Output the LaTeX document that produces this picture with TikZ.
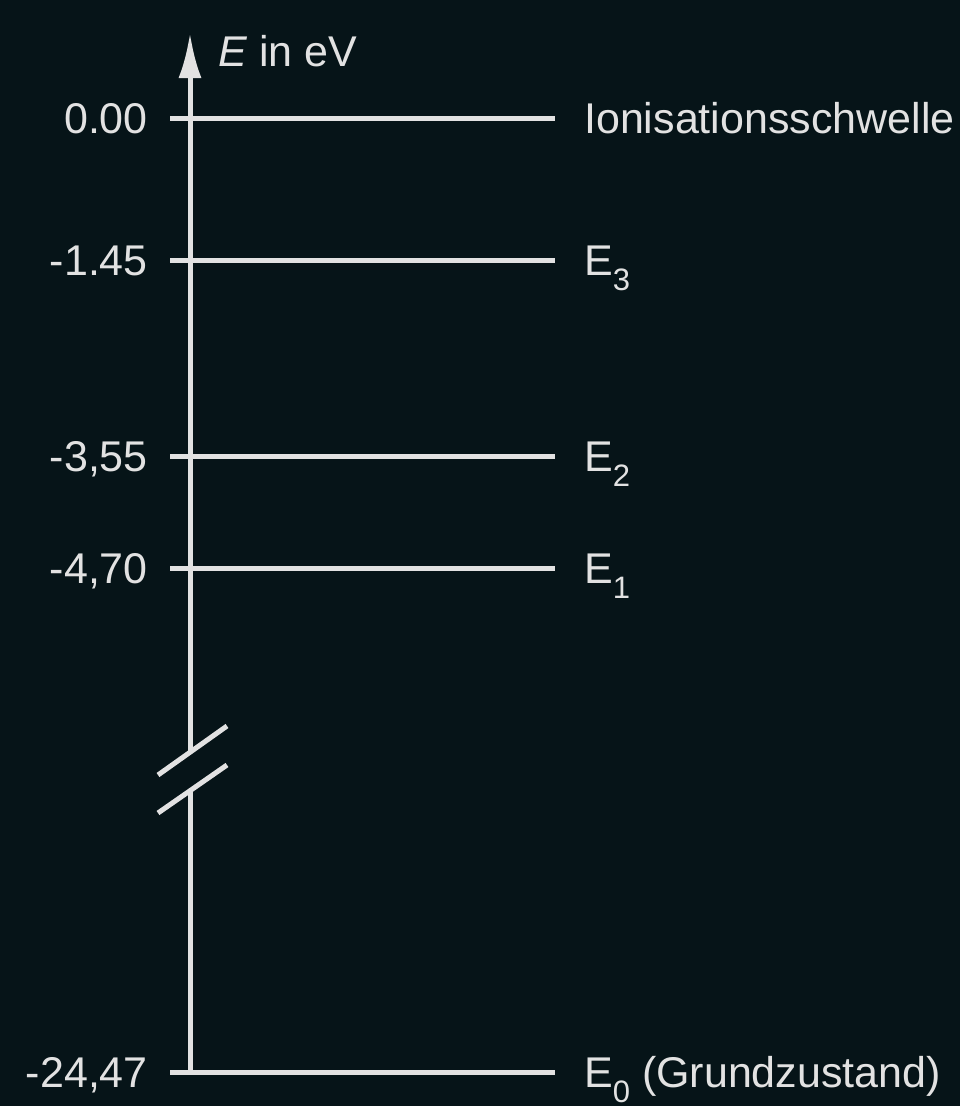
\documentclass[tikz,border=0pt]{standalone}
\usepackage{fontspec}
\setmainfont{Liberation Sans}
\usetikzlibrary{arrows.meta}
\definecolor{bgdark}{RGB}{6,20,24}
\definecolor{linegray}{RGB}{226,226,226}
\newcommand{\lvlsub}[1]{E\raisebox{-0.36em}{\fontsize{31}{31}\selectfont #1}}
\tikzset{
  level/.style={linegray, line width=5pt},
  axisline/.style={linegray, line width=5pt},
  vallabel/.style={anchor=base east, text=linegray, inner sep=0pt, font=\fontsize{43}{43}\selectfont},
  namelabel/.style={anchor=base west, text=linegray, inner sep=0pt, font=\fontsize{43}{43}\selectfont}
}
\begin{document}
\begin{tikzpicture}[x=1pt,y=-1pt]
\fill[bgdark] (0,0) rectangle (960,1106);
\useasboundingbox (0,0) rectangle (960,1106);
% energy levels
\foreach \y/\val/\txt [count=\i] in {118/0.00/Ionisationsschwelle, 260/-1.45/\lvlsub{3}, 456/{-3,55}/\lvlsub{2}, 568/{-4,70}/\lvlsub{1}, 1072/{-24,47}/{\lvlsub{0} (Grundzustand)}}{
	\coordinate (l\i) at (170,\y);
	\coordinate (r\i) at (555,\y);
	\draw[level] (l\i)--(r\i);
	\node[vallabel] (val\i) at (148,\y+15) {\val};
	\node[namelabel] (name\i) at (584,\y+15) {\txt};
}
% axis with break
\coordinate (axbot) at (190,1072);
\coordinate (brklo) at (190,792);
\coordinate (brkhi) at (190,753);
\coordinate (axtop) at (190,33);
\draw[axisline] (axbot)--(brklo);
\draw[axisline, -{Latex[length=45pt,width=23pt]}] (brkhi)--(axtop);
\draw[axisline] (158,775)--(227,726);
\draw[axisline] (158,813)--(227,765);
\node[namelabel] (axlabel) at (218,66) {\textit{E} in eV};
\end{tikzpicture}
\end{document}
